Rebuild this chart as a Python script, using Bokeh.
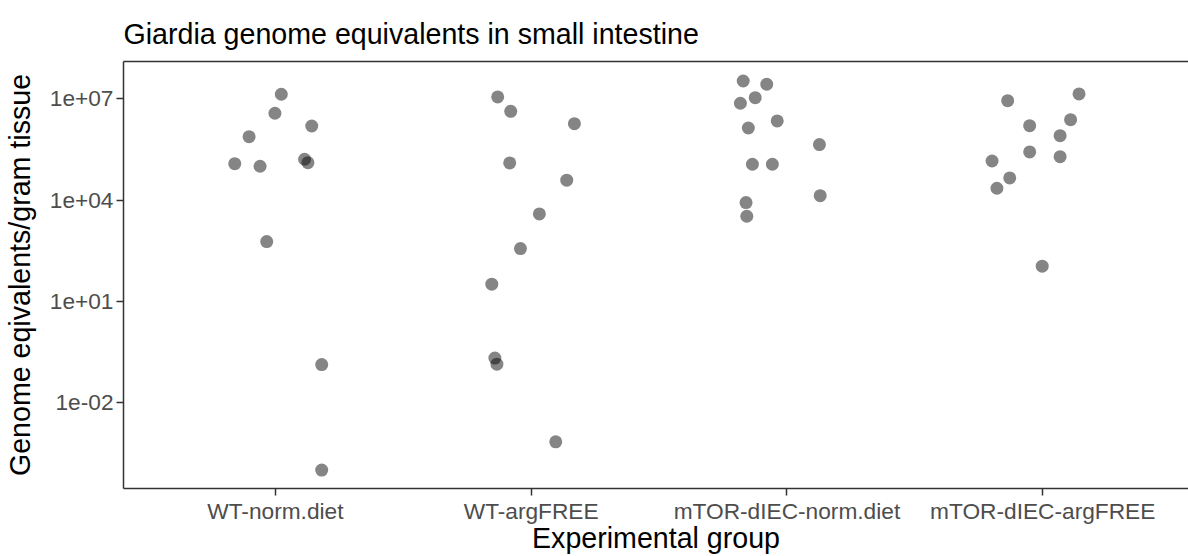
from bokeh.plotting import figure
from bokeh.models import (Range1d, FixedTicker, CustomJSTickFormatter, LinearAxis,
                          ColumnDataSource)
from bokeh.embed import file_html
from bokeh.resources import INLINE

# ---------------- data ----------------
groups = ["WT-norm.diet", "WT-argFREE", "mTOR-dIEC-norm.diet", "mTOR-dIEC-argFREE"]

wt_norm = [1.38e7, 3.77e6, 1.58e6, 7.64e5, 1.21e5, 1.01e5, 1.63e5, 1.29e5, 590, 0.133, 9.9e-5]
wt_norm_jitter = [0.023, -0.002, 0.142, -0.103, -0.159, -0.060, 0.114, 0.127, -0.034, 0.181, 0.181]

wt_arg = [1.15e7, 4.3e6, 1.85e6, 1.27e5, 3.9e4, 3.9e3, 366, 32.2, 0.207, 0.137, 6.8e-4]
wt_arg_jitter = [-0.131, -0.080, 0.169, -0.084, 0.139, 0.032, -0.042, -0.154, -0.142, -0.134, 0.096]

mtor_norm = [3.41e7, 2.73e7, 1.09e7, 7.46e6, 2.23e6, 1.38e6, 4.43e5, 1.16e5, 1.16e5, 8.45e3, 3.33e3, 1.36e4]
mtor_norm_jitter = [-0.171, -0.079, -0.124, -0.182, -0.038, -0.151, 0.127, -0.135, -0.057, -0.160, -0.157, 0.130]

mtor_arg = [8.9e6, 1.41e7, 2.43e6, 1.62e6, 8.17e5, 2.69e5, 1.95e5, 1.45e5, 4.56e4, 2.25e4, 110]
mtor_arg_jitter = [-0.137, 0.142, 0.109, -0.051, 0.068, -0.051, 0.068, -0.198, -0.129, -0.179, -0.002]

y_ticks = [1e-2, 1e1, 1e4, 1e7]

series = [wt_norm, wt_arg, mtor_norm, mtor_arg]
jitters = [wt_norm_jitter, wt_arg_jitter, mtor_norm_jitter, mtor_arg_jitter]

xs, ys = [], []
for i, (vals, jit) in enumerate(zip(series, jitters)):
    for v, j in zip(vals, jit):
        xs.append(i + 1 + j)
        ys.append(v)
src = ColumnDataSource(data=dict(x=xs, y=ys))

FONT = "Liberation Sans"
DARK = "#333333"

p = figure(width=1188, height=556, y_axis_type="log",
           x_range=Range1d(0.406, 4.570), y_range=Range1d(10 ** -4.55, 10 ** 8.111),
           output_backend="svg", toolbar_location=None,
           min_border_left=122, min_border_right=0, min_border_top=61, min_border_bottom=68,
           title="Giardia genome equivalents in small intestine")

p.scatter("x", "y", source=src, size=13, fill_color="black", fill_alpha=0.48, line_color=None)

p.outline_line_color = None
p.xgrid.grid_line_color = None
p.ygrid.grid_line_color = None
p.background_fill_color = "white"
p.border_fill_color = "white"

p.title.text_font = FONT
p.title.text_font_size = "28.6px"
p.title.text_font_style = "normal"
p.title.text_color = "black"
p.title.standoff = 24

# y axis
ya = p.yaxis[0]
ya.ticker = FixedTicker(ticks=y_ticks)
ya.formatter = CustomJSTickFormatter(code="""
    const s = tick.toExponential(0);
    return s.replace(/e([+-])(\\d)$/, (m, a, b) => "e" + a + "0" + b);
""")
ya.axis_label = "Genome eqivalents/gram tissue"
ya.axis_label_text_font = FONT
ya.axis_label_text_font_size = "28.6px"
ya.axis_label_text_font_style = "normal"
ya.axis_label_text_color = "black"
ya.axis_label_standoff = 11
ya.major_label_text_font = FONT
ya.major_label_text_font_size = "22.7px"
ya.major_label_text_color = "#4D4D4D"
ya.major_label_standoff = 3
ya.major_tick_out = 7
ya.major_tick_in = 0
ya.minor_tick_line_color = None
ya.major_tick_line_color = DARK
ya.major_tick_line_width = 1.5
ya.axis_line_color = DARK
ya.axis_line_width = 1.5

# x axis
xa = p.xaxis[0]
xa.ticker = FixedTicker(ticks=[1, 2, 3, 4])
xa.formatter = CustomJSTickFormatter(args=dict(labels=groups), code="""
    return labels[Math.round(tick) - 1];
""")
xa.axis_label = "Experimental group"
xa.axis_label_text_font = FONT
xa.axis_label_text_font_size = "28.6px"
xa.axis_label_text_font_style = "normal"
xa.axis_label_text_color = "black"
xa.axis_label_standoff = -5
xa.major_label_text_font = FONT
xa.major_label_text_font_size = "22.7px"
xa.major_label_text_color = "#4D4D4D"
xa.major_label_standoff = 2
xa.major_tick_out = 7
xa.major_tick_in = 0
xa.minor_tick_line_color = None
xa.major_tick_line_color = DARK
xa.major_tick_line_width = 1.5
xa.axis_line_color = DARK
xa.axis_line_width = 1.5

# top border line
top = LinearAxis(ticker=FixedTicker(ticks=[]), major_tick_out=0, major_tick_in=0,
                 major_label_standoff=0, major_label_text_font_size="0px",
                 minor_tick_line_color=None, major_tick_line_color=None,
                 axis_line_color=DARK, axis_line_width=1.5)
p.add_layout(top, "above")

open("out.html", "w").write(file_html(p, INLINE))
